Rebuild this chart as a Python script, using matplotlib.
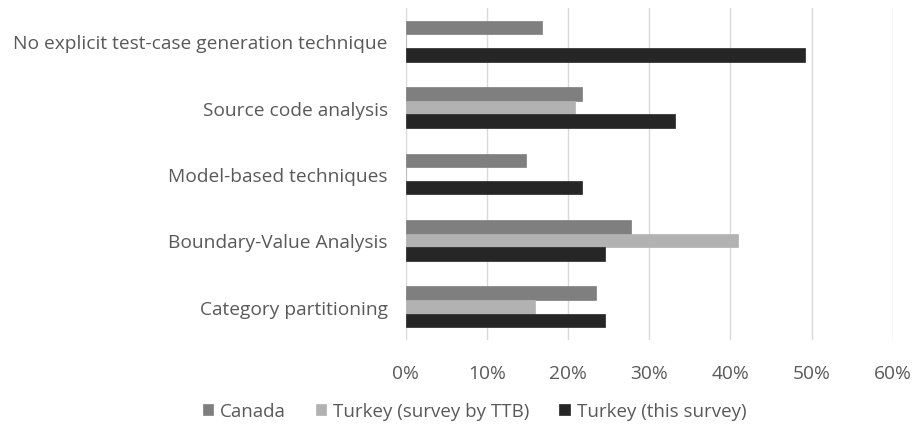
import matplotlib
matplotlib.use("Agg")
import matplotlib.pyplot as plt
import numpy as np
from matplotlib.ticker import PercentFormatter

categories = ["No explicit test-case generation technique", "Source code analysis",
              "Model-based techniques", "Boundary-Value Analysis", "Category partitioning"]
canada = [16.8, 21.7, 14.8, 27.7, 23.4]
turkey_ttb = [0, 20.9, 0, 40.9, 15.9]
turkey_this = [49.2, 33.2, 21.7, 24.6, 24.6]
series_names = ["Canada", "Turkey (survey by TTB)", "Turkey (this survey)"]
colors = ["#7f7f7f", "#b2b2b2", "#262626"]

plt.rcParams['font.family'] = ['Open Sans', 'DejaVu Sans']
fig = plt.figure(figsize=(9.24, 4.27), dpi=100)
ax = fig.add_axes([405.7/924, 1-341/427, (892.7-405.7)/924, (341-9)/427])

n = len(categories)
y = np.arange(n)
h = 0.205
for i, (vals, c, name) in enumerate(zip([canada, turkey_ttb, turkey_this], colors, series_names)):
    ax.barh(y + (i-1)*h, vals, height=h, color=c, label=name, edgecolor=c, linewidth=0.5)

ax.set_ylim(n-0.5, -0.5)
ax.set_xlim(0, 60)
ax.set_xticks(np.arange(0, 61, 10))
ax.xaxis.set_major_formatter(PercentFormatter(decimals=0))
ax.set_yticks(y)
ax.set_yticklabels(categories)
ax.grid(axis='x', color='#d9d9d9', linewidth=1)
ax.set_axisbelow(True)
for s in ax.spines.values():
    s.set_visible(False)
ax.tick_params(axis='both', length=0, labelsize=13.8, colors='#595959')
ax.tick_params(axis='y', pad=13)
ax.tick_params(axis='x', pad=17)

leg = fig.legend(*ax.get_legend_handles_labels(), loc='center', bbox_to_anchor=(474.5/924, 1-412/427),
                 ncol=3, frameon=False, fontsize=13.5, handlelength=0.55, handleheight=0.55,
                 handletextpad=0.37, columnspacing=1.6, borderpad=0)
for t in leg.get_texts():
    t.set_color('#595959')

fig.savefig("out.png", dpi=100)
